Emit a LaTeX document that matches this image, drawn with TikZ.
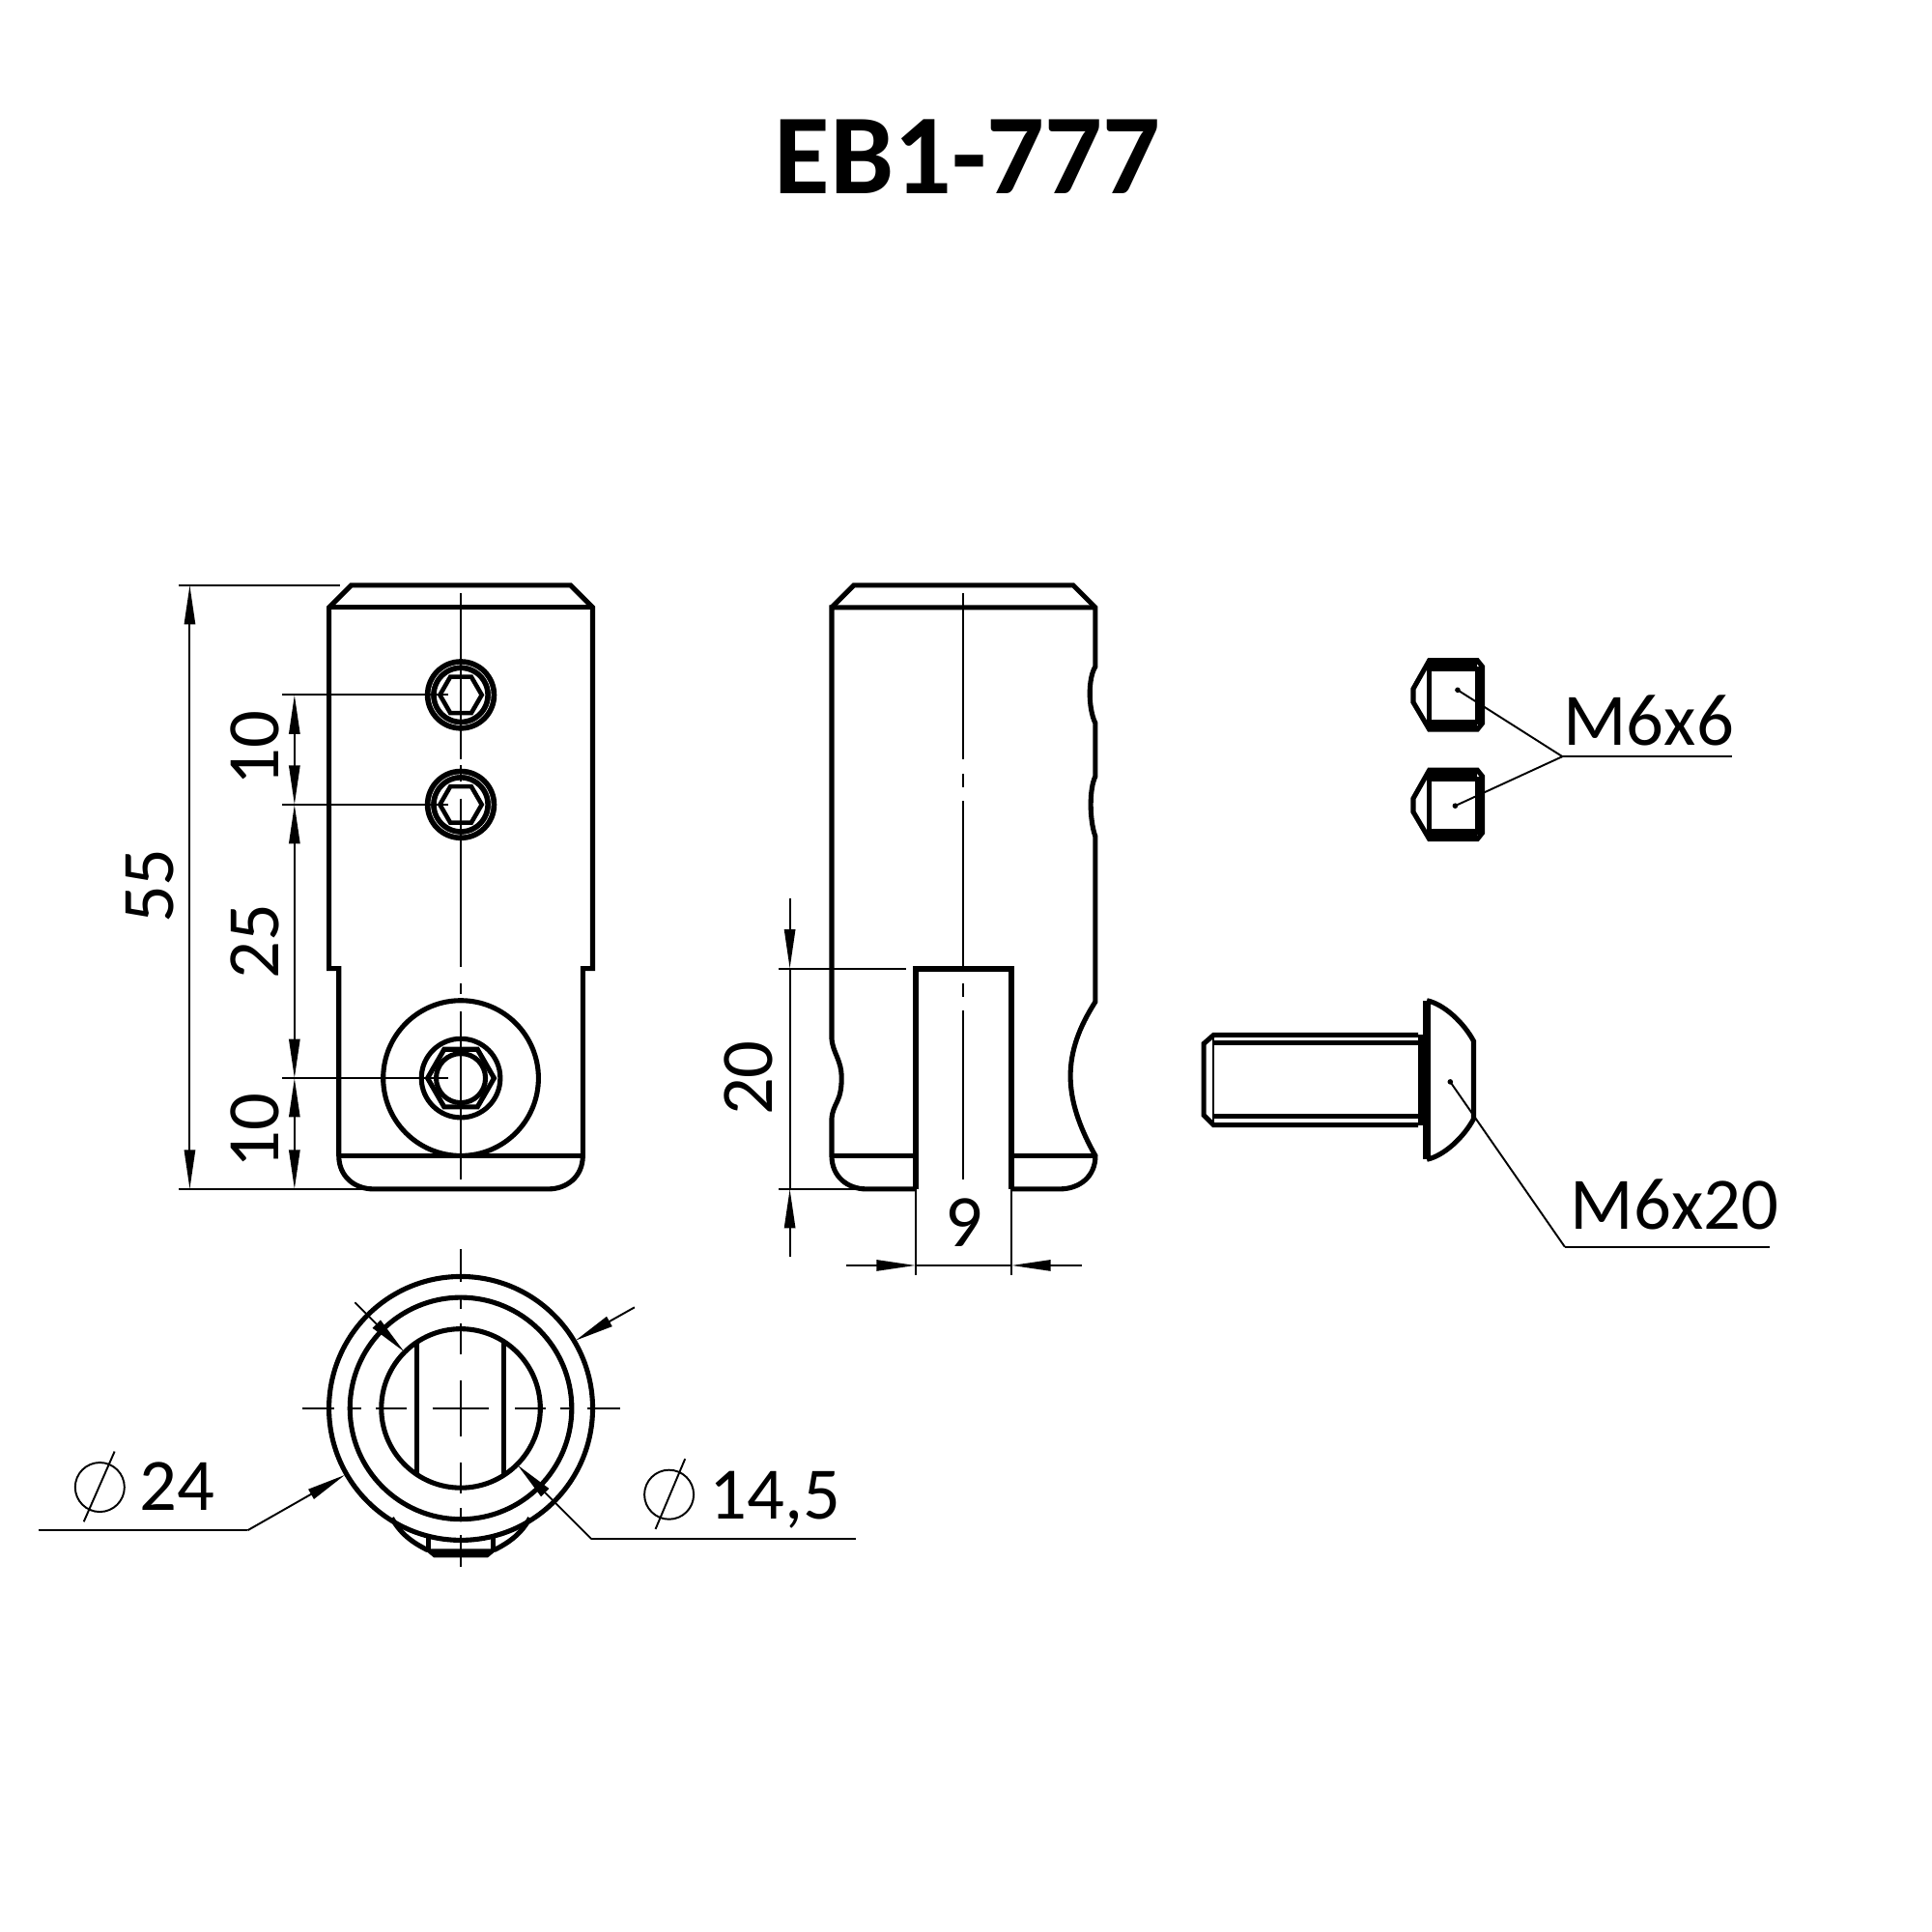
\documentclass[tikz,border=0pt]{standalone}
\usepackage{fontspec}
\setmainfont{Carlito}
\usetikzlibrary{arrows.meta}

\tikzset{
  partline/.style={line width=1.45pt,line join=miter},
  heavyline/.style={line width=1.7pt},
  dimline/.style={line width=0.55pt},
  centerline/.style={line width=0.55pt},
  dimarrow/.style={dimline,{Triangle[length=11.5pt,width=3.2pt]}-{Triangle[length=11.5pt,width=3.2pt]}},
  endarrow/.style={dimline,-{Triangle[length=11.5pt,width=3.2pt]}},
  dimtext/.style={font=\fontsize{21.8}{26}\selectfont,inner sep=0pt,anchor=base},
  titletext/.style={font=\fontsize{33.6}{40}\selectfont\bfseries,inner sep=0pt,anchor=base}
}

\begin{document}
\begin{tikzpicture}[x=0.012755cm,y=-0.012755cm]
    \useasboundingbox (0,0) rectangle (1568,1568);
    \fill[white] (0,0) rectangle (1568,1568);

    % Title
    \node[titletext] (title) at (785,157) {EB1-777};

    % Front view: body outline
    \draw[partline] (285,475) -- (463,475) -- (481,493) -- (481,786) -- (473,786) -- (473,938)
      .. controls (473,955) and (460,965) .. (445,965) -- (303,965)
      .. controls (288,965) and (275,955) .. (275,938) -- (275,786) -- (267,786) -- (267,493) -- cycle;
    \draw[partline] (267,493) -- (481,493);
    \draw[partline] (275,938) -- (473,938);

    % Front view: set screw holes
    \foreach \cy in {564,653}{
      \draw[line width=3.4pt] (374,\cy) circle[radius=24.5];
      \draw[white,line width=0.15pt] (374,\cy) circle[radius=24.5];
      \draw[line width=1.3pt,shift={(374,\cy)}] (17,0) -- (8.5,14.7) -- (-8.5,14.7) -- (-17,0) -- (-8.5,-14.7) -- (8.5,-14.7) -- cycle;
    }

    % Front view: large hole
    \draw[partline] (374,875) circle[radius=63];
    \draw[partline] (374,875) circle[radius=32];
    \draw[partline] (374,875) circle[radius=20];
    \draw[partline,shift={(374,875)}] (27,0) -- (13.5,23.4) -- (-13.5,23.4) -- (-27,0) -- (-13.5,-23.4) -- (13.5,-23.4) -- cycle;

    % Front view: center line
    \foreach \ya/\yb in {481/616,621/634,648/785,798/807,821/957}{
      \draw[centerline] (374,\ya) -- (374,\yb);
    }

    % Front view: dimensions
    \coordinate (topext) at (154,475);
    \coordinate (botext) at (154,965);
    \coordinate (d1) at (239,564);
    \coordinate (d2) at (239,653);
    \coordinate (d3) at (239,875);
    \coordinate (d4) at (239,965);
    \draw[dimline] (145,475) -- (276,475);
    \draw[dimline] (145,965) -- (300,965);
    \draw[dimline] (229,564) -- (364,564);
    \draw[dimline] (229,653) -- (364,653);
    \draw[dimline] (229,875) -- (364,875);
    \draw[dimarrow] (topext) -- (botext);
    \draw[dimarrow] (d1) -- (d2);
    \draw[dimarrow] (d2) -- (d3);
    \draw[dimarrow] (d3) -- (d4);
    \node[dimtext,rotate=90] (dimA) at (141,719) {55};
    \node[dimtext,rotate=90] (dimB) at (226,607) {10};
    \node[dimtext,rotate=90] (dimC) at (226,764) {25};
    \node[dimtext,rotate=90] (dimD) at (226,918) {10};

    % Side view: body outline
    \draw[partline] (675,493) -- (693,475) -- (871,475) -- (889,493) -- (889,541)
      .. controls (883,550) and (883,575) .. (889,587) -- (889,630)
      .. controls (884,640) and (884,665) .. (889,679) -- (889,813)
      .. controls (862,855) and (862,890) .. (889,938)
      .. controls (889,955) and (876,965) .. (860,965) -- (821,965);
    \draw[partline] (743,965) -- (703,965)
      .. controls (688,965) and (675,955) .. (675,938) -- (675,908)
      .. controls (676,895) and (683,895) .. (683,875)
      .. controls (683,860) and (676,855) .. (675,843) -- (675,493) -- (889,493);
    \draw[partline] (675,938) -- (743,938);
    \draw[partline] (821,938) -- (889,938);

    % Side view: slot
    \draw[heavyline] (743,965) -- (743,786) -- (821,786) -- (821,965);

    % Side view: center line
    \foreach \ya/\yb in {481/616,628/639,650/786,798/809,820/957}{
      \draw[centerline] (782,\ya) -- (782,\yb);
    }

    % Side view: dimensions
    \coordinate (sa) at (641,729);
    \coordinate (sb) at (641,786);
    \coordinate (sc) at (641,1020);
    \coordinate (sd) at (641,965);
    \coordinate (se) at (687,1027);
    \coordinate (sf) at (743,1027);
    \coordinate (sg) at (878,1027);
    \coordinate (sh) at (821,1027);
    \draw[dimline] (632,786) -- (735,786);
    \draw[dimline] (632,965) -- (697,965);
    \draw[dimline] (743,965) -- (743,1035);
    \draw[dimline] (821,965) -- (821,1035);
    \draw[dimline] (sb) -- (sd);
    \draw[dimline] (sf) -- (sh);
    \draw[endarrow] (sa) -- (sb);
    \draw[endarrow] (sc) -- (sd);
    \draw[endarrow] (se) -- (sf);
    \draw[endarrow] (sg) -- (sh);
    \node[dimtext,rotate=90] (dimE) at (627,875) {20};
    \node[dimtext] (dimF) at (782,1012) {9};

    % Bottom view
    \draw[partline] (374,1143) circle[radius=107];
    \draw[partline] (374,1143) circle[radius=90];
    \draw[partline] (374,1143) circle[radius=64.5];
    \draw[partline] (338,1089) -- (338,1197);
    \draw[partline] (409,1089) -- (409,1197);

    % Bottom view: screw below
    \draw[partline] (318,1232) .. controls (325,1245) and (335,1252) .. (347,1258);
    \draw[partline] (430,1232) .. controls (423,1245) and (413,1252) .. (401,1258);
    \draw[partline] (348,1246) -- (348,1258);
    \draw[partline] (400,1246) -- (400,1258);
    \fill (346,1257) -- (402,1257) -- (402,1259) -- (396,1264) -- (352,1264) -- (346,1259) -- cycle;

    % Bottom view: center lines
    \foreach \a/\b in {-129/-103,-92/-81,-69/-44,-23/23,44/69,81/92,103/129}{
      \draw[centerline] (374+\a,1143) -- (374+\b,1143);
      \draw[centerline] (374,1143+\a) -- (374,1143+\b);
    }

    % Diameter 24
    \coordinate (ldA) at (31,1242);
    \coordinate (ldB) at (201,1242);
    \coordinate (ldC) at (280,1197);
    \coordinate (ldD) at (515,1061);
    \coordinate (ldE) at (467,1088);
    \draw[dimline] (ldA) -- (ldB);
    \draw[endarrow] (ldB) -- (ldC);
    \draw[endarrow] (ldD) -- (ldE);
    \draw[dimline] (81,1207) circle[radius=20];
    \draw[dimline] (93,1178) -- (68,1235);
    \node[dimtext] (dimG) at (144,1226) {24};

    % Diameter 14,5
    \coordinate (ldF) at (695,1249);
    \coordinate (ldG) at (480,1249);
    \coordinate (ldH) at (420,1189);
    \coordinate (ldI) at (288,1057);
    \coordinate (ldJ) at (328,1097);
    \draw[dimline] (ldF) -- (ldG);
    \draw[endarrow] (ldG) -- (ldH);
    \draw[endarrow] (ldI) -- (ldJ);
    \draw[dimline] (543,1213) circle[radius=20];
    \draw[dimline] (556,1184) -- (532,1241);
    \node[dimtext] (dimH) at (629,1233) {14,5};

    % Set screws
    \foreach \dy in {0,89}{
      \draw[partline,yshift=-\dy*0.012755cm] (1147,559) -- (1160,536) -- (1199,536) -- (1203,541) -- (1203,587) -- (1199,592) -- (1160,592) -- (1147,570) -- cycle;
      \draw[partline,yshift=-\dy*0.012755cm] (1160,543) rectangle (1199,586);
      \draw[partline,yshift=-\dy*0.012755cm] (1160,536) -- (1160,592);
      \fill[yshift=-\dy*0.012755cm] (1160,536) rectangle (1199,543);
      \fill[yshift=-\dy*0.012755cm] (1160,586) rectangle (1199,592);
      \fill[yshift=-\dy*0.012755cm] (1198,541) rectangle (1203,587);
    }
    \coordinate (scrA) at (1183,560);
    \coordinate (scrB) at (1181,654);
    \coordinate (scrJ) at (1268,614);
    \coordinate (scrE) at (1406,614);
    \fill (scrA) circle[radius=2.2];
    \fill (scrB) circle[radius=2.2];
    \draw[dimline] (scrA) -- (scrJ);
    \draw[dimline] (scrB) -- (scrJ);
    \draw[dimline] (scrJ) -- (scrE);
    \node[dimtext] (labA) at (1338,605) {M6x6};

    % Bolt
    \draw[partline] (1151,840) -- (985,840) -- (977,847) -- (977,905) -- (985,913) -- (1151,913);
    \draw[partline] (985,846.5) -- (1151,846.5);
    \draw[partline] (985,906) -- (1151,906);
    \draw[dimline] (985,840) -- (985,913);
    \fill (1151,840) rectangle (1156,913);
    \draw[line width=2.2pt] (1158,812) -- (1158,941);
    \draw[partline] (1158,812) .. controls (1172,815) and (1188,830) .. (1196,845) -- (1196,908)
      .. controls (1188,923) and (1172,938) .. (1158,941);
    \coordinate (bltA) at (1177,878);
    \coordinate (bltB) at (1270,1012);
    \coordinate (bltC) at (1436,1012);
    \fill (bltA) circle[radius=2.2];
    \draw[dimline] (bltA) -- (bltB);
    \draw[dimline] (bltB) -- (bltC);
    \node[dimtext] (labB) at (1359,998) {M6x20};
\end{tikzpicture}
\end{document}
